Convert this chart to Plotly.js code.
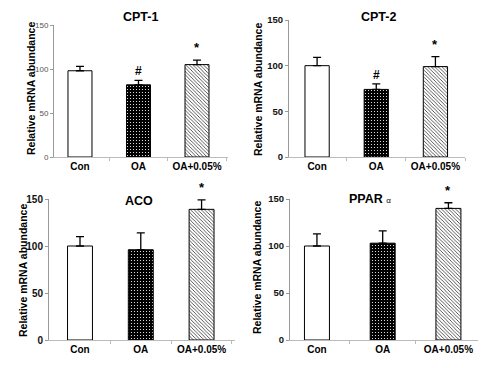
<!DOCTYPE html>
<html>
<head>
<meta charset="utf-8">
<script src="https://cdn.plot.ly/plotly-3.0.1.min.js"></script>
<style>html,body{margin:0;padding:0;background:#fff;}#chart{width:500px;height:368px;}</style>
</head>
<body>
<div id="chart"></div>
<script>
// ---- data ----
const groups = ["Con", "OA", "OA+0.05%"];
const panelTitles = ["CPT-1", "CPT-2", "ACO", "PPAR <span style='font-size:8px;font-weight:normal'>α</span>"];
const cpt1 = [98, 82, 105];
const cpt1Err = [5, 5, 5];
const cpt2 = [100, 74, 99];
const cpt2Err = [9, 6, 11];
const aco = [100, 96, 139];
const acoErr = [10, 18, 10];
const ppar = [100, 103, 140];
const pparErr = [13, 13, 6];
const cpt1Marks = ["", "#", "*"];
const cpt2Marks = ["", "#", "*"];
const acoMarks = ["", "", "*"];
const pparMarks = ["", "", "*"];
const yTicks = [0, 50, 100, 150];

const values = [cpt1, cpt2, aco, ppar];
const errs = [cpt1Err, cpt2Err, acoErr, pparErr];
const marks = [cpt1Marks, cpt2Marks, acoMarks, pparMarks];

const FONT = "Liberation Sans, Arial, sans-serif";
const W = 500, H = 368;
// panel geometry (pixels): x0, x1, yZero, yTop
const geo = [
  {x0: 54, x1: 228, y0: 157, y1: 25, xr: [-0.444, 2.53], bw: 0.41, tx: 140, ty: 17, ytx: 31, yty: 89, bold: false, tickFont: {size: 8, color: "#555"}},
  {x0: 289, x1: 465, y0: 157, y1: 20, xr: [-0.475, 2.5], bw: 0.41, tx: 378, ty: 17, ytx: 258, yty: 90, bold: true, tickFont: {size: 9.5, color: "#111"}},
  {x0: 49, x1: 235, y0: 340, y1: 199, xr: [-0.51, 2.55], bw: 0.41, tx: 139, ty: 201, ytx: 23, yty: 271, bold: true, tickFont: {size: 10, color: "#111"}},
  {x0: 290, x1: 478, y0: 340, y1: 199, xr: [-0.41, 2.45], bw: 0.38, tx: 370, ty: 199, ytx: 257, yty: 268, bold: true, tickFont: {size: 9.5, color: "#111"}}
];

const barColors = ["#ffffff", "#000000", "#ffffff"];
const patterns = [
  {shape: ""},
  {shape: ".", fgcolor: "#ffffff", bgcolor: "#000000", size: 3, solidity: 0.12, fillmode: "replace"},
  {shape: "\\", fgcolor: "#222222", bgcolor: "#ffffff", size: 2.5, solidity: 0.3, fillmode: "replace"}
];

const traces = [];
const annotations = [];
const layout = {
  width: W, height: H,
  margin: {l: 0, r: 0, t: 0, b: 0},
  paper_bgcolor: "#fff", plot_bgcolor: "#fff",
  showlegend: false,
  font: {family: FONT, color: "#000"},
  annotations: annotations
};

geo.forEach((g, p) => {
  const sfx = p === 0 ? "" : String(p + 1);
  const xa = "x" + sfx, ya = "y" + sfx;
  groups.forEach((grp, i) => {
    traces.push({
      type: "bar",
      x: [i], y: [values[p][i]],
      width: g.bw,
      xaxis: xa, yaxis: ya,
      marker: {color: barColors[i], line: {color: "#000", width: 1}, pattern: patterns[i]},
      error_y: {type: "data", symmetric: false, array: [errs[p][i]], arrayminus: [0], color: "#000", thickness: 1.3, width: 4},
      hoverinfo: "skip"
    });
    if (marks[p][i]) {
      annotations.push({
        xref: xa, yref: ya, x: i, y: values[p][i] + errs[p][i],
        text: "<b>" + marks[p][i] + "</b>", showarrow: false,
        yanchor: "bottom", yshift: marks[p][i] === "*" ? 3 : 0,
        font: {family: FONT, size: marks[p][i] === "*" ? 13 : 12, color: "#000"}
      });
    }
  });
  layout["xaxis" + sfx] = {
    domain: [g.x0 / W, g.x1 / W],
    anchor: ya,
    range: g.xr,
    tickvals: [0, 1, 2], ticktext: groups.map(s => "<b>" + s + "</b>"),
    ticks: "", showgrid: false, zeroline: false,
    showline: true, linecolor: "#bbbbbb", linewidth: 1,
    minor: {tickvals: [0.5, 1.5, 2.5], ticks: "outside", ticklen: 3, tickcolor: "#bbbbbb", showgrid: false},
    tickfont: {family: FONT, size: 10, color: "#000"},
    fixedrange: true
  };
  layout["yaxis" + sfx] = {
    domain: [(H - g.y0) / H, (H - g.y1) / H],
    anchor: xa,
    range: [0, 150],
    tickvals: yTicks,
    ticktext: yTicks.map(v => g.bold ? "<b>" + v + "</b>" : String(v)),
    ticks: "outside", ticklen: 3, tickcolor: "#999", tickwidth: 1,
    showline: true, linecolor: "#999", linewidth: 1,
    showgrid: false, zeroline: false,
    tickfont: Object.assign({family: FONT}, g.tickFont),
    fixedrange: true
  };
  annotations.push({
    xref: "paper", yref: "paper", x: g.tx / W, y: (H - g.ty) / H,
    text: "<b>" + panelTitles[p] + "</b>", showarrow: false,
    xanchor: "center", yanchor: "middle",
    font: {family: FONT, size: 12.5, color: "#000"}
  });
  annotations.push({
    xref: "paper", yref: "paper", x: g.ytx / W, y: (H - g.yty) / H,
    text: "<b>Relative mRNA abundance</b>", showarrow: false, textangle: -90,
    xanchor: "center", yanchor: "middle",
    font: {family: FONT, size: 10.5, color: "#000"}
  });
});

Plotly.newPlot("chart", traces, layout, {displayModeBar: false, staticPlot: true});
</script>
</body>
</html>
